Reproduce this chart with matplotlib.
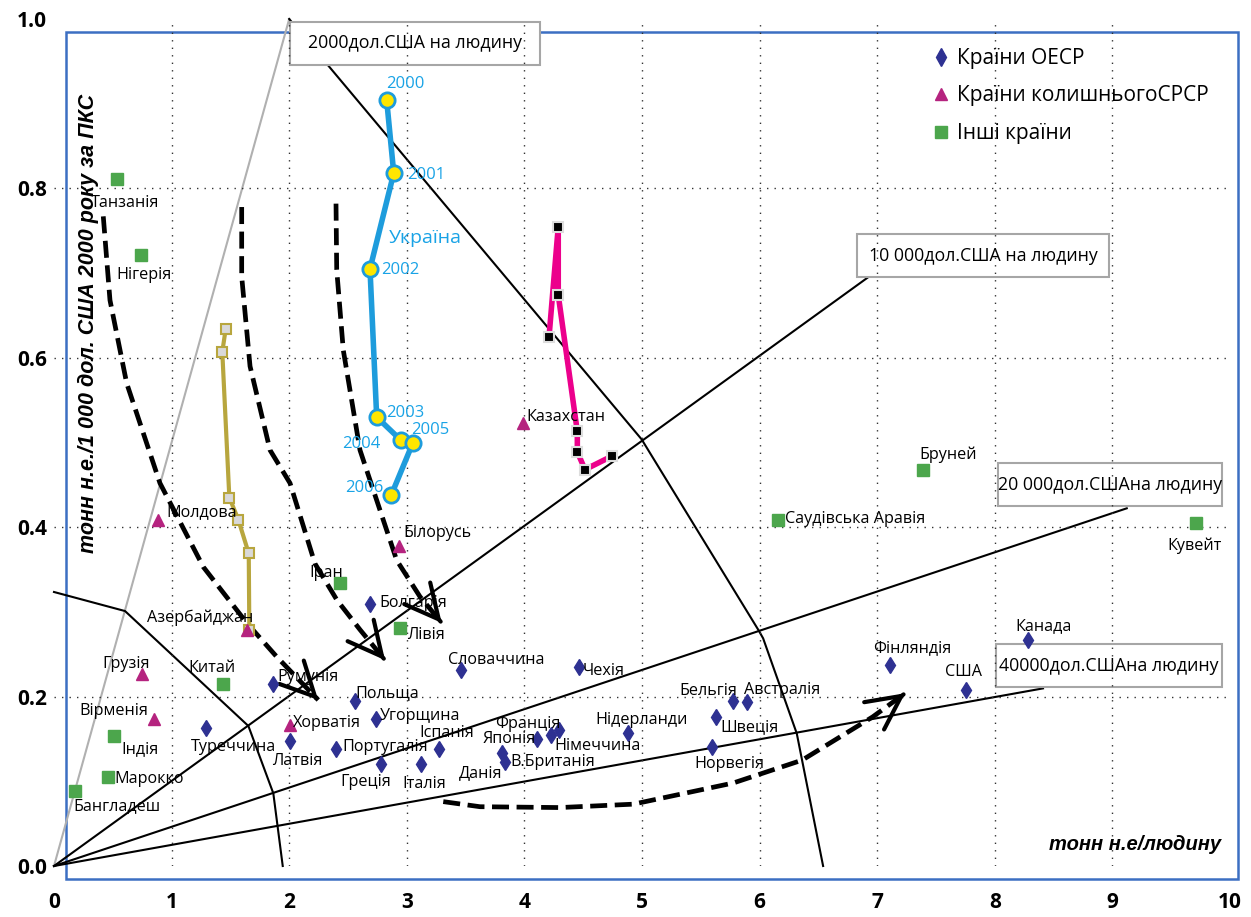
import matplotlib
matplotlib.use("Agg")
import matplotlib.pyplot as plt
from matplotlib.lines import Line2D
from matplotlib.patches import Rectangle

plt.rcParams['font.family'] = ['Open Sans', 'DejaVu Sans']

# --- Країни ОЕСР ---
oecd_names = ["Туреччина", "Румунія", "Латвія", "Болгарія", "Польща", "Угорщина",
              "Португалія", "Греція", "Італія", "Іспанія", "Словаччина", "Чехія",
              "Данія", "В.Британія", "Японія", "Франція", "Німеччина", "Нідерланди",
              "Бельгія", "Австралія", "Швеція", "Норвегія", "Фінляндія", "США", "Канада"]
oecd_x = [1.291, 1.860, 2.007, 2.687, 2.560, 2.735, 2.398, 2.781, 3.121, 3.276, 3.458, 4.464,
          3.807, 3.835, 4.110, 4.224, 4.297, 4.884, 5.776, 5.890, 5.629, 5.593, 7.109, 7.754, 8.283]
oecd_y = [0.163, 0.215, 0.147, 0.309, 0.195, 0.173, 0.138, 0.120, 0.121, 0.138, 0.231, 0.235,
          0.134, 0.123, 0.150, 0.155, 0.161, 0.157, 0.195, 0.194, 0.176, 0.141, 0.237, 0.208, 0.267]
oecd_off = [(28, -19), (35, 7), (7, -20), (43, 1), (32, 8), (44, 3), (49, 2), (-15, -18),
            (3, -20), (7, 16), (36, 10), (25, -4), (-21, -21), (48, 0), (-28, 0), (-23, 11),
            (38, -16), (13, 13), (-25, 10), (35, 12), (34, -10), (18, -17), (22, 17),
            (-2, 18), (15, 14)]

# --- Країни колишнього СРСР ---
cis_names = ["Молдова", "Грузія", "Вірменія", "Азербайджан", "Хорватія", "Білорусь", "Казахстан"]
cis_x = [0.882, 0.746, 0.853, 1.639, 2.007, 2.934, 3.991]
cis_y = [0.409, 0.227, 0.173, 0.279, 0.167, 0.378, 0.523]
cis_off = [(44, 7), (-16, 10), (-41, 8), (-47, 12), (37, 2), (38, 13), (43, 6)]

# --- Інші країни ---
other_names = ["Танзанія", "Нігерія", "Індія", "Марокко", "Бангладеш", "Китай", "Іран",
               "Лівія", "Саудівська Аравія", "Бруней", "Кувейт"]
other_x = [0.533, 0.737, 0.513, 0.462, 0.179, 1.434, 2.432, 2.942, 6.159, 7.387, 9.711]
other_y = [0.811, 0.721, 0.154, 0.105, 0.089, 0.215, 0.334, 0.281, 0.409, 0.468, 0.405]
other_off = [(8, -24), (3, -20), (26, -14), (41, -2), (42, -16), (-11, 16), (-14, 10),
             (26, -7), (77, 1), (25, 15), (-1, -23)]

# Україна 2000-2006
ua_years = ["2000", "2001", "2002", "2003", "2004", "2005", "2006"]
ua_x = [2.829, 2.889, 2.687, 2.744, 2.948, 3.050, 2.868]
ua_y = [0.904, 0.818, 0.705, 0.530, 0.503, 0.499, 0.438]

# траєкторія Азербайджану
az_x = [1.460, 1.431, 1.491, 1.567, 1.656, 1.661]
az_y = [0.634, 0.607, 0.435, 0.409, 0.369, 0.279]

# траєкторія Росії
ru_x = [4.209, 4.288, 4.288, 4.450, 4.450, 4.515, 4.745]
ru_y = [0.624, 0.755, 0.674, 0.513, 0.489, 0.468, 0.484]

# лінії рівного ВВП на людину (кінцеві точки від початку координат)
iso_labels = ["2000дол.США на людину", "10 000дол.США на людину",
              "20 000дол.СШАна людину", "40000дол.СШАна людину"]
iso_end_x = [2.0, 6.922, 9.122, 8.41]
iso_end_y = [1.0, 0.695, 0.4223, 0.2097]
iso_box = [(2.007, 0.9457, 4.133, 0.9965), (6.831, 0.695, 8.974, 0.7462),
           (8.027, 0.425, 9.929, 0.4758), (8.010, 0.2113, 9.932, 0.2621)]

# поперечні лінії
cross_left_x = [0.0, 0.604, 1.653, 1.865, 1.945]
cross_left_y = [0.3235, 0.301, 0.1653, 0.0858, 0.0]
cross_right_x = [2.0, 4.997, 5.99, 6.03, 6.316, 6.54]
cross_right_y = [1.0, 0.5037, 0.2786, 0.2688, 0.1565, 0.0]

# пунктирні стрілки
arrows = [
    ([0.419, 0.476, 0.618, 0.901, 1.270, 1.639, 1.894, 2.247],
     [0.767, 0.668, 0.570, 0.452, 0.353, 0.287, 0.247, 0.196]),
    ([1.596, 1.596, 1.667, 1.837, 2.007, 2.219, 2.406, 2.602, 2.815],
     [0.778, 0.696, 0.590, 0.491, 0.452, 0.357, 0.314, 0.279, 0.243]),
    ([2.398, 2.404, 2.460, 2.602, 2.914, 3.112, 3.297],
     [0.782, 0.704, 0.609, 0.491, 0.361, 0.318, 0.287]),
    ([3.310, 3.622, 4.3, 4.926, 5.776, 6.362, 6.961, 7.238],
     [0.076, 0.070, 0.069, 0.073, 0.098, 0.125, 0.176, 0.204]),
]

fig = plt.figure(figsize=(12.51, 9.17), dpi=100)
ax = fig.add_axes([54 / 1251, 1 - 866 / 917, 1176 / 1251, 847 / 917])
ax.set_xlim(0, 10)
ax.set_ylim(0, 1)
for s in ax.spines.values():
    s.set_visible(False)

# синя рамка
ax.add_patch(Rectangle((66 / 1251, 1 - 879 / 917), (1238 - 66) / 1251, (879 - 32) / 917,
                       transform=fig.transFigure, fill=False, edgecolor='#3c6fc2',
                       lw=1.8, zorder=0.5, clip_on=False))

# сітка
for gx in range(1, 10):
    ax.axvline(gx, color='#333333', lw=1.0, ls=(0, (1, 4.4)), zorder=2.5)
for gy in [0.2, 0.4, 0.6, 0.8]:
    ax.axhline(gy, color='#333333', lw=1.0, ls=(0, (1, 4.4)), zorder=2.5)

# лінії ВВП
for i, (ex, ey) in enumerate(zip(iso_end_x, iso_end_y)):
    col = '#b0b0b0' if i == 0 else 'black'
    ax.plot([0, ex], [0, ey], color=col, lw=1.5, zorder=1.5, clip_on=False)
for lab, (x0, y0, x1, y1) in zip(iso_labels, iso_box):
    ax.add_patch(Rectangle((x0, y0), x1 - x0, y1 - y0, facecolor='white',
                           edgecolor='#a6a6a6', lw=1.5, zorder=2))
    ax.text((x0 + x1) / 2, (y0 + y1) / 2, lab, ha='center', va='center',
            fontsize=12.8, zorder=2.2)

ax.plot(cross_left_x, cross_left_y, color='black', lw=1.5, zorder=1.5, clip_on=False)
ax.plot(cross_right_x, cross_right_y, color='black', lw=1.5, zorder=1.5, clip_on=False)

# стрілки
for xs, ys in arrows:
    ax.plot(xs, ys, color='black', lw=3.4, dashes=(3.6, 1.6), zorder=3)
    tx, ty = xs[-1], ys[-1]
    bx = tx - 0.05 * (tx - xs[-2])
    by = ty - 0.05 * (ty - ys[-2])
    ax.annotate('', xy=(tx, ty), xytext=(bx, by),
                arrowprops=dict(arrowstyle='->,head_length=0.9,head_width=0.45',
                                lw=3, color='black', shrinkA=0, shrinkB=0,
                                mutation_scale=27), zorder=3)

# траєкторії
ax.plot(az_x, az_y, color='#b8a63e', lw=3, marker='s', ms=7, mfc='#d9d9d9',
        mec='#b8a63e', mew=1.5, zorder=4)
ax.plot(ru_x, ru_y, color='#ec008c', lw=4, marker='s', ms=6.5, mfc='black',
        mec='#dddddd', mew=1.5, zorder=4)
ax.plot(ua_x, ua_y, color='#1e9cdc', lw=4, marker='o', ms=11, mfc='#ffe600',
        mec='#1e9cdc', mew=2, zorder=4)

ua_lab_off = [(-1, 16, 'left'), (13, -2, 'left'), (11, -1, 'left'), (9, 4, 'left'),
              (-20, -4, 'right'), (-2, 13, 'left'), (-8, 7, 'right')]
for yr, x, y, (dx, dy, ha) in zip(ua_years, ua_x, ua_y, ua_lab_off):
    ax.annotate(yr, (x, y), xytext=(dx, dy), textcoords='offset pixels', ha=ha,
                va='center', fontsize=12, color='#19a3e6', zorder=6)
ax.text(3.155, 0.741, 'Україна', ha='center', va='center', fontsize=14,
        color='#19a3e6', zorder=6)

# точки країн
ax.plot(oecd_x, oecd_y, ls='none', marker='d', ms=8.5, color='#2e3192', zorder=5)
ax.plot(cis_x, cis_y, ls='none', marker='^', ms=9, color='#b5237f', zorder=5)
ax.plot(other_x, other_y, ls='none', marker='s', ms=9, color='#4ca64c', zorder=5)

for names, xs, ys, offs in [(oecd_names, oecd_x, oecd_y, oecd_off),
                            (cis_names, cis_x, cis_y, cis_off),
                            (other_names, other_x, other_y, other_off)]:
    for n, x, y, (dx, dy) in zip(names, xs, ys, offs):
        ax.annotate(n, (x, y), xytext=(dx, dy), textcoords='offset pixels',
                    ha='center', va='center', fontsize=11.6, zorder=6)

# осі
ax.set_xticks(range(0, 11))
ax.set_yticks([0, 0.2, 0.4, 0.6, 0.8, 1.0])
ax.set_yticklabels(['0.0', '0.2', '0.4', '0.6', '0.8', '1.0'])
ax.tick_params(axis='both', length=0, labelsize=15)
ax.tick_params(axis='x', pad=19)
ax.tick_params(axis='y', pad=5)
for t in ax.get_xticklabels() + ax.get_yticklabels():
    t.set_fontweight('bold')

fig.text(88 / 1251, 1 - 323 / 917, 'тонн н.е./1 000 дол. США 2000 року за ПКС',
         rotation=90, ha='center', va='center', fontsize=15.5, fontweight='bold',
         fontstyle='italic', family='Liberation Sans')
fig.text(1221 / 1251, 1 - 845 / 917, 'тонн н.е/людину', ha='right', va='center',
         fontsize=14.5, fontweight='bold', fontstyle='italic', family='Liberation Sans')

handles = [Line2D([], [], ls='none', marker='d', ms=9, color='#2e3192'),
           Line2D([], [], ls='none', marker='^', ms=9, color='#b5237f'),
           Line2D([], [], ls='none', marker='s', ms=9, color='#4ca64c')]
ax.legend(handles, ['Країни ОЕСР', 'Країни колишньогоСРСР', 'Інші країни'],
          loc='upper left', bbox_to_anchor=(0.748, 0.966), frameon=False, fontsize=15,
          handlelength=0.7, handletextpad=0.4, labelspacing=0.8, borderaxespad=0,
          borderpad=0)

fig.savefig('out.png', dpi=100)
